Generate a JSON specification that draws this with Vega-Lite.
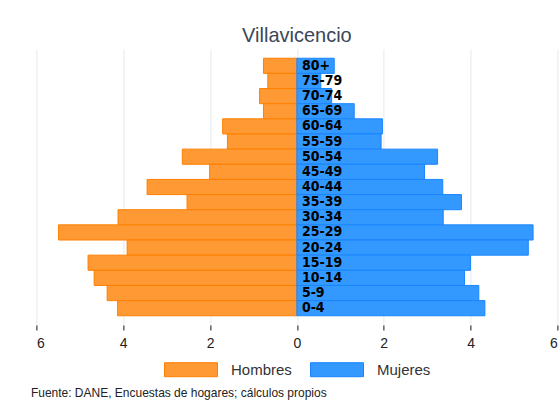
{
  "$schema": "https://vega.github.io/schema/vega-lite/v6.json",
  "autosize": {"type": "none"},
  "width": 521,
  "height": 276,
  "padding": {"left": 36.4, "top": 49, "right": 10, "bottom": 86},
  "background": "white",
  "title": {
    "text": "Villavicencio",
    "fontSize": 20,
    "font": "Liberation Sans",
    "fontWeight": "normal",
    "color": "#3b4658",
    "anchor": "middle",
    "offset": 3
  },
  "data": {
    "values": [
      {"edad": "80+", "sexo": "Hombres", "pct": -0.77},
      {"edad": "75-79", "sexo": "Hombres", "pct": -0.67},
      {"edad": "70-74", "sexo": "Hombres", "pct": -0.86},
      {"edad": "65-69", "sexo": "Hombres", "pct": -0.77},
      {"edad": "60-64", "sexo": "Hombres", "pct": -1.71},
      {"edad": "55-59", "sexo": "Hombres", "pct": -1.6},
      {"edad": "50-54", "sexo": "Hombres", "pct": -2.64},
      {"edad": "45-49", "sexo": "Hombres", "pct": -2.01},
      {"edad": "40-44", "sexo": "Hombres", "pct": -3.45},
      {"edad": "35-39", "sexo": "Hombres", "pct": -2.53},
      {"edad": "30-34", "sexo": "Hombres", "pct": -4.12},
      {"edad": "25-29", "sexo": "Hombres", "pct": -5.49},
      {"edad": "20-24", "sexo": "Hombres", "pct": -3.91},
      {"edad": "15-19", "sexo": "Hombres", "pct": -4.81},
      {"edad": "10-14", "sexo": "Hombres", "pct": -4.67},
      {"edad": "5-9", "sexo": "Hombres", "pct": -4.37},
      {"edad": "0-4", "sexo": "Hombres", "pct": -4.13},
      {"edad": "80+", "sexo": "Mujeres", "pct": 0.86},
      {"edad": "75-79", "sexo": "Mujeres", "pct": 0.55},
      {"edad": "70-74", "sexo": "Mujeres", "pct": 0.8},
      {"edad": "65-69", "sexo": "Mujeres", "pct": 1.32},
      {"edad": "60-64", "sexo": "Mujeres", "pct": 1.97},
      {"edad": "55-59", "sexo": "Mujeres", "pct": 1.94},
      {"edad": "50-54", "sexo": "Mujeres", "pct": 3.24},
      {"edad": "45-49", "sexo": "Mujeres", "pct": 2.94},
      {"edad": "40-44", "sexo": "Mujeres", "pct": 3.36},
      {"edad": "35-39", "sexo": "Mujeres", "pct": 3.79},
      {"edad": "30-34", "sexo": "Mujeres", "pct": 3.37},
      {"edad": "25-29", "sexo": "Mujeres", "pct": 5.44},
      {"edad": "20-24", "sexo": "Mujeres", "pct": 5.33},
      {"edad": "15-19", "sexo": "Mujeres", "pct": 4.0},
      {"edad": "10-14", "sexo": "Mujeres", "pct": 3.86},
      {"edad": "5-9", "sexo": "Mujeres", "pct": 4.19},
      {"edad": "0-4", "sexo": "Mujeres", "pct": 4.33}
    ]
  },
  "encoding": {
    "y": {
      "field": "edad",
      "type": "nominal",
      "sort": ["80+","75-79","70-74","65-69","60-64","55-59","50-54","45-49","40-44","35-39","30-34","25-29","20-24","15-19","10-14","5-9","0-4"],
      "scale": {"paddingInner": 0, "paddingOuter": 0.61},
      "axis": null
    }
  },
  "layer": [
    {
      "mark": {"type": "bar", "strokeWidth": 1, "opacity": 1},
      "encoding": {
        "x": {
          "field": "pct",
          "type": "quantitative",
          "scale": {"domain": [-6, 6], "nice": false, "zero": false},
          "axis": {
            "values": [-6, -4, -2, 0, 2, 4, 6],
            "labelExpr": "format(abs(datum.value), 'd')",
            "domain": false,
            "grid": true,
            "gridColor": "#e2ecec",
            "gridWidth": 1,
            "tickColor": "#111111",
            "tickSize": 5,
            "tickOffset": 0,
            "labelFont": "Liberation Sans",
            "labelFontSize": 14,
            "labelColor": "#222222",
            "labelPadding": 7,
            "title": "Fuente: DANE, Encuestas de hogares; cálculos propios",
            "titleFont": "Liberation Sans",
            "titleFontSize": 12,
            "titleFontWeight": "normal",
            "titleColor": "#222222",
            "titleAnchor": "start",
            "titleAlign": "left",
            "titleBaseline": "alphabetic",
            "titleX": -6,
            "titleY": 72
          }
        },
        "color": {
          "field": "sexo",
          "type": "nominal",
          "scale": {"domain": ["Hombres", "Mujeres"], "range": ["#ff9933", "#3399ff"]},
          "legend": {
            "orient": "none",
            "direction": "horizontal",
            "legendX": 127.6,
            "legendY": 293.7,
            "title": null,
            "symbolType": "M-1,-0.264H1V0.264H-1Z",
            "symbolSize": 2809,
            "symbolStrokeWidth": 1,
            "symbolOpacity": 1,
            "labelFont": "Liberation Sans",
            "labelFontSize": 15,
            "labelColor": "#333333",
            "labelOffset": 13,
            "columnPadding": 16,
            "padding": 0
          }
        },
        "stroke": {
          "field": "sexo",
          "type": "nominal",
          "scale": {"domain": ["Hombres", "Mujeres"], "range": ["#ff8000", "#1a85ff"]},
          "legend": {
            "orient": "none",
            "direction": "horizontal",
            "legendX": 127.6,
            "legendY": 293.7,
            "title": null,
            "symbolType": "M-1,-0.264H1V0.264H-1Z",
            "symbolSize": 2809,
            "symbolStrokeWidth": 1,
            "symbolOpacity": 1,
            "labelFont": "Liberation Sans",
            "labelFontSize": 15,
            "labelColor": "#333333",
            "labelOffset": 13,
            "columnPadding": 16,
            "padding": 0
          }
        }
      }
    },
    {
      "transform": [{"filter": "datum.sexo === 'Mujeres'"}],
      "mark": {
        "type": "text",
        "align": "left",
        "baseline": "middle",
        "dx": 5,
        "fontSize": 14,
        "fontWeight": "bold",
        "font": "DejaVu Sans Condensed, sans-serif",
        "color": "#000000"
      },
      "encoding": {
        "x": {"datum": 0},
        "text": {"field": "edad", "type": "nominal"}
      }
    }
  ],
  "config": {
    "view": {"stroke": null}
  }
}
